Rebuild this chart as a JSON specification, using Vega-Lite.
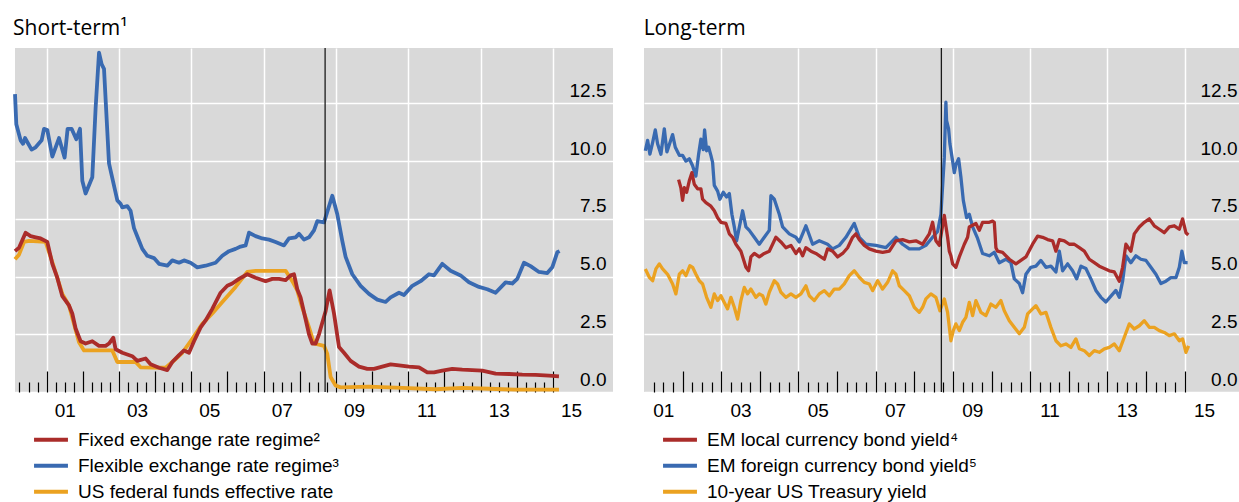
{
  "$schema": "https://vega.github.io/schema/vega-lite/v6.json",
  "background": "white",
  "padding": {"left": 13, "top": 18, "right": 0, "bottom": 0},
  "spacing": 30,
  "config": {
    "view": {"fill": "#d9d9d9", "stroke": null},
    "font": "Liberation Sans",
    "axis": {"labelFont": "Liberation Sans", "labelColor": "black", "labelFontSize": 19, "title": null},
    "legend": {"labelFont": "Liberation Sans", "labelColor": "black", "labelFontSize": 19, "labelLimit": 0}
  },
  "resolve": {"scale": {"color": "independent"}},
  "datasets": {
    "short": [
      {"s":"ffr","t":2000.126,"v":5.75},{"s":"ffr","t":2000.237,"v":5.95},{"s":"ffr","t":2000.375,"v":6.5},{"s":"ffr","t":2000.513,"v":6.55},{"s":"ffr","t":2000.972,"v":6.5},{"s":"ffr","t":2001.111,"v":5.85},{"s":"ffr","t":2001.295,"v":4.95},{"s":"ffr","t":2001.434,"v":4.25},{"s":"ffr","t":2001.619,"v":3.75},{"s":"ffr","t":2001.758,"v":2.95},{"s":"ffr","t":2001.896,"v":2.15},{"s":"ffr","t":2002.034,"v":1.8},{"s":"ffr","t":2002.816,"v":1.8},{"s":"ffr","t":2002.955,"v":1.3},{"s":"ffr","t":2003.461,"v":1.3},{"s":"ffr","t":2003.599,"v":1.07},{"s":"ffr","t":2004.29,"v":1.05},{"s":"ffr","t":2004.475,"v":1.3},{"s":"ffr","t":2004.752,"v":1.7},{"s":"ffr","t":2005.028,"v":2.3},{"s":"ffr","t":2005.305,"v":2.95},{"s":"ffr","t":2005.581,"v":3.4},{"s":"ffr","t":2005.858,"v":3.9},{"s":"ffr","t":2006.225,"v":4.55},{"s":"ffr","t":2006.549,"v":5.2},{"s":"ffr","t":2006.778,"v":5.25},{"s":"ffr","t":2007.608,"v":5.25},{"s":"ffr","t":2007.793,"v":4.8},{"s":"ffr","t":2007.931,"v":4.4},{"s":"ffr","t":2008.069,"v":3.65},{"s":"ffr","t":2008.255,"v":2.8},{"s":"ffr","t":2008.393,"v":2.1},{"s":"ffr","t":2008.669,"v":2.0},{"s":"ffr","t":2008.761,"v":1.65},{"s":"ffr","t":2008.852,"v":0.65},{"s":"ffr","t":2008.99,"v":0.28},{"s":"ffr","t":2009.128,"v":0.2},{"s":"ffr","t":2009.913,"v":0.23},{"s":"ffr","t":2010.834,"v":0.18},{"s":"ffr","t":2011.755,"v":0.12},{"s":"ffr","t":2012.493,"v":0.18},{"s":"ffr","t":2013.231,"v":0.14},{"s":"ffr","t":2013.967,"v":0.1},{"s":"ffr","t":2015.166,"v":0.1},
      {"s":"flex","t":2000.126,"v":12.9},{"s":"flex","t":2000.162,"v":11.6},{"s":"flex","t":2000.281,"v":10.9},{"s":"flex","t":2000.348,"v":10.75},{"s":"flex","t":2000.403,"v":11.0},{"s":"flex","t":2000.585,"v":10.5},{"s":"flex","t":2000.696,"v":10.6},{"s":"flex","t":2000.862,"v":10.9},{"s":"flex","t":2000.928,"v":11.4},{"s":"flex","t":2001.019,"v":11.35},{"s":"flex","t":2001.158,"v":10.2},{"s":"flex","t":2001.343,"v":11.0},{"s":"flex","t":2001.498,"v":10.15},{"s":"flex","t":2001.581,"v":11.4},{"s":"flex","t":2001.691,"v":11.4},{"s":"flex","t":2001.821,"v":10.95},{"s":"flex","t":2001.923,"v":11.4},{"s":"flex","t":2001.987,"v":9.15},{"s":"flex","t":2002.078,"v":8.6},{"s":"flex","t":2002.263,"v":9.3},{"s":"flex","t":2002.355,"v":12.3},{"s":"flex","t":2002.449,"v":14.7},{"s":"flex","t":2002.521,"v":14.2},{"s":"flex","t":2002.587,"v":14.0},{"s":"flex","t":2002.725,"v":9.9},{"s":"flex","t":2002.955,"v":8.3},{"s":"flex","t":2003.046,"v":8.15},{"s":"flex","t":2003.093,"v":8.0},{"s":"flex","t":2003.231,"v":8.05},{"s":"flex","t":2003.322,"v":7.85},{"s":"flex","t":2003.416,"v":7.1},{"s":"flex","t":2003.555,"v":6.55},{"s":"flex","t":2003.646,"v":6.2},{"s":"flex","t":2003.784,"v":5.9},{"s":"flex","t":2003.969,"v":5.8},{"s":"flex","t":2004.108,"v":5.55},{"s":"flex","t":2004.337,"v":5.47},{"s":"flex","t":2004.475,"v":5.7},{"s":"flex","t":2004.661,"v":5.6},{"s":"flex","t":2004.799,"v":5.7},{"s":"flex","t":2004.981,"v":5.6},{"s":"flex","t":2005.166,"v":5.4},{"s":"flex","t":2005.396,"v":5.47},{"s":"flex","t":2005.672,"v":5.6},{"s":"flex","t":2005.858,"v":5.9},{"s":"flex","t":2006.043,"v":6.1},{"s":"flex","t":2006.225,"v":6.2},{"s":"flex","t":2006.364,"v":6.3},{"s":"flex","t":2006.502,"v":6.35},{"s":"flex","t":2006.596,"v":6.9},{"s":"flex","t":2006.778,"v":6.75},{"s":"flex","t":2006.964,"v":6.65},{"s":"flex","t":2007.149,"v":6.6},{"s":"flex","t":2007.331,"v":6.5},{"s":"flex","t":2007.563,"v":6.35},{"s":"flex","t":2007.702,"v":6.65},{"s":"flex","t":2007.884,"v":6.7},{"s":"flex","t":2007.978,"v":6.85},{"s":"flex","t":2008.116,"v":6.6},{"s":"flex","t":2008.255,"v":6.7},{"s":"flex","t":2008.393,"v":7.0},{"s":"flex","t":2008.484,"v":7.4},{"s":"flex","t":2008.669,"v":7.35},{"s":"flex","t":2008.899,"v":8.5},{"s":"flex","t":2009.037,"v":7.7},{"s":"flex","t":2009.175,"v":6.55},{"s":"flex","t":2009.267,"v":5.85},{"s":"flex","t":2009.452,"v":5.1},{"s":"flex","t":2009.681,"v":4.6},{"s":"flex","t":2009.913,"v":4.25},{"s":"flex","t":2010.143,"v":4.0},{"s":"flex","t":2010.373,"v":3.9},{"s":"flex","t":2010.511,"v":4.1},{"s":"flex","t":2010.743,"v":4.3},{"s":"flex","t":2010.881,"v":4.2},{"s":"flex","t":2011.111,"v":4.6},{"s":"flex","t":2011.34,"v":4.8},{"s":"flex","t":2011.572,"v":5.1},{"s":"flex","t":2011.711,"v":5.05},{"s":"flex","t":2011.94,"v":5.55},{"s":"flex","t":2012.169,"v":5.25},{"s":"flex","t":2012.446,"v":5.05},{"s":"flex","t":2012.678,"v":4.75},{"s":"flex","t":2012.955,"v":4.55},{"s":"flex","t":2013.184,"v":4.45},{"s":"flex","t":2013.414,"v":4.3},{"s":"flex","t":2013.69,"v":4.75},{"s":"flex","t":2013.875,"v":4.7},{"s":"flex","t":2014.013,"v":4.9},{"s":"flex","t":2014.199,"v":5.6},{"s":"flex","t":2014.381,"v":5.45},{"s":"flex","t":2014.613,"v":5.2},{"s":"flex","t":2014.843,"v":5.15},{"s":"flex","t":2014.981,"v":5.4},{"s":"flex","t":2015.119,"v":6.05},{"s":"flex","t":2015.183,"v":6.1},
      {"s":"fixed","t":2000.126,"v":6.1},{"s":"fixed","t":2000.237,"v":6.25},{"s":"fixed","t":2000.419,"v":6.9},{"s":"fixed","t":2000.558,"v":6.75},{"s":"fixed","t":2000.696,"v":6.7},{"s":"fixed","t":2000.834,"v":6.65},{"s":"fixed","t":2001.019,"v":6.5},{"s":"fixed","t":2001.158,"v":5.55},{"s":"fixed","t":2001.295,"v":4.95},{"s":"fixed","t":2001.434,"v":4.15},{"s":"fixed","t":2001.619,"v":3.75},{"s":"fixed","t":2001.71,"v":3.4},{"s":"fixed","t":2001.802,"v":2.75},{"s":"fixed","t":2001.94,"v":2.2},{"s":"fixed","t":2002.078,"v":2.1},{"s":"fixed","t":2002.263,"v":2.2},{"s":"fixed","t":2002.449,"v":2.0},{"s":"fixed","t":2002.631,"v":2.0},{"s":"fixed","t":2002.725,"v":2.1},{"s":"fixed","t":2002.844,"v":2.35},{"s":"fixed","t":2002.908,"v":1.85},{"s":"fixed","t":2003.093,"v":1.7},{"s":"fixed","t":2003.369,"v":1.55},{"s":"fixed","t":2003.508,"v":1.35},{"s":"fixed","t":2003.737,"v":1.45},{"s":"fixed","t":2003.875,"v":1.2},{"s":"fixed","t":2004.108,"v":1.05},{"s":"fixed","t":2004.337,"v":0.95},{"s":"fixed","t":2004.475,"v":1.3},{"s":"fixed","t":2004.661,"v":1.6},{"s":"fixed","t":2004.799,"v":1.8},{"s":"fixed","t":2004.937,"v":1.7},{"s":"fixed","t":2005.075,"v":2.2},{"s":"fixed","t":2005.258,"v":2.8},{"s":"fixed","t":2005.396,"v":3.1},{"s":"fixed","t":2005.581,"v":3.6},{"s":"fixed","t":2005.811,"v":4.3},{"s":"fixed","t":2005.996,"v":4.6},{"s":"fixed","t":2006.134,"v":4.7},{"s":"fixed","t":2006.319,"v":4.9},{"s":"fixed","t":2006.549,"v":5.1},{"s":"fixed","t":2006.778,"v":4.95},{"s":"fixed","t":2007.055,"v":4.8},{"s":"fixed","t":2007.24,"v":4.9},{"s":"fixed","t":2007.425,"v":4.9},{"s":"fixed","t":2007.608,"v":4.85},{"s":"fixed","t":2007.746,"v":5.05},{"s":"fixed","t":2007.84,"v":5.1},{"s":"fixed","t":2007.931,"v":4.45},{"s":"fixed","t":2008.022,"v":4.1},{"s":"fixed","t":2008.161,"v":3.15},{"s":"fixed","t":2008.255,"v":2.5},{"s":"fixed","t":2008.346,"v":2.1},{"s":"fixed","t":2008.437,"v":2.1},{"s":"fixed","t":2008.531,"v":2.5},{"s":"fixed","t":2008.622,"v":3.0},{"s":"fixed","t":2008.714,"v":3.5},{"s":"fixed","t":2008.824,"v":4.4},{"s":"fixed","t":2008.946,"v":3.4},{"s":"fixed","t":2009.084,"v":1.95},{"s":"fixed","t":2009.222,"v":1.7},{"s":"fixed","t":2009.405,"v":1.35},{"s":"fixed","t":2009.637,"v":1.1},{"s":"fixed","t":2009.867,"v":1.0},{"s":"fixed","t":2010.052,"v":1.0},{"s":"fixed","t":2010.281,"v":1.1},{"s":"fixed","t":2010.511,"v":1.2},{"s":"fixed","t":2010.743,"v":1.15},{"s":"fixed","t":2011.019,"v":1.1},{"s":"fixed","t":2011.296,"v":1.07},{"s":"fixed","t":2011.525,"v":0.85},{"s":"fixed","t":2011.711,"v":0.85},{"s":"fixed","t":2011.94,"v":0.93},{"s":"fixed","t":2012.216,"v":1.0},{"s":"fixed","t":2012.493,"v":0.97},{"s":"fixed","t":2012.769,"v":0.95},{"s":"fixed","t":2013.045,"v":0.93},{"s":"fixed","t":2013.414,"v":0.8},{"s":"fixed","t":2013.784,"v":0.78},{"s":"fixed","t":2014.152,"v":0.75},{"s":"fixed","t":2014.52,"v":0.74},{"s":"fixed","t":2014.89,"v":0.71},{"s":"fixed","t":2015.166,"v":0.68}
    ],
    "long": [
      {"s":"ust","t":2001.034,"v":5.33},{"s":"ust","t":2001.137,"v":4.97},{"s":"ust","t":2001.223,"v":4.82},{"s":"ust","t":2001.308,"v":5.33},{"s":"ust","t":2001.396,"v":5.55},{"s":"ust","t":2001.482,"v":5.33},{"s":"ust","t":2001.611,"v":5.1},{"s":"ust","t":2001.741,"v":4.68},{"s":"ust","t":2001.826,"v":4.25},{"s":"ust","t":2001.914,"v":5.1},{"s":"ust","t":2001.999,"v":5.25},{"s":"ust","t":2002.085,"v":5.04},{"s":"ust","t":2002.189,"v":5.47},{"s":"ust","t":2002.258,"v":5.4},{"s":"ust","t":2002.344,"v":5.1},{"s":"ust","t":2002.432,"v":4.82},{"s":"ust","t":2002.517,"v":4.68},{"s":"ust","t":2002.621,"v":4.1},{"s":"ust","t":2002.732,"v":3.67},{"s":"ust","t":2002.82,"v":4.25},{"s":"ust","t":2002.906,"v":3.96},{"s":"ust","t":2002.991,"v":4.17},{"s":"ust","t":2003.079,"v":3.88},{"s":"ust","t":2003.165,"v":3.6},{"s":"ust","t":2003.25,"v":4.1},{"s":"ust","t":2003.338,"v":3.67},{"s":"ust","t":2003.424,"v":3.16},{"s":"ust","t":2003.509,"v":3.96},{"s":"ust","t":2003.597,"v":4.53},{"s":"ust","t":2003.683,"v":4.25},{"s":"ust","t":2003.768,"v":4.46},{"s":"ust","t":2003.897,"v":4.1},{"s":"ust","t":2003.985,"v":4.25},{"s":"ust","t":2004.071,"v":4.17},{"s":"ust","t":2004.156,"v":3.81},{"s":"ust","t":2004.244,"v":4.32},{"s":"ust","t":2004.374,"v":4.82},{"s":"ust","t":2004.459,"v":4.68},{"s":"ust","t":2004.545,"v":4.32},{"s":"ust","t":2004.674,"v":4.1},{"s":"ust","t":2004.804,"v":4.25},{"s":"ust","t":2004.933,"v":4.1},{"s":"ust","t":2005.063,"v":4.25},{"s":"ust","t":2005.192,"v":4.6},{"s":"ust","t":2005.28,"v":4.17},{"s":"ust","t":2005.41,"v":3.96},{"s":"ust","t":2005.539,"v":4.25},{"s":"ust","t":2005.669,"v":4.39},{"s":"ust","t":2005.798,"v":4.17},{"s":"ust","t":2005.927,"v":4.46},{"s":"ust","t":2006.057,"v":4.46},{"s":"ust","t":2006.186,"v":4.68},{"s":"ust","t":2006.316,"v":5.04},{"s":"ust","t":2006.445,"v":5.25},{"s":"ust","t":2006.575,"v":4.97},{"s":"ust","t":2006.704,"v":4.75},{"s":"ust","t":2006.834,"v":4.68},{"s":"ust","t":2006.919,"v":4.39},{"s":"ust","t":2007.049,"v":4.82},{"s":"ust","t":2007.178,"v":4.46},{"s":"ust","t":2007.308,"v":4.75},{"s":"ust","t":2007.437,"v":5.25},{"s":"ust","t":2007.523,"v":5.1},{"s":"ust","t":2007.611,"v":4.6},{"s":"ust","t":2007.74,"v":4.39},{"s":"ust","t":2007.87,"v":4.17},{"s":"ust","t":2007.999,"v":3.67},{"s":"ust","t":2008.128,"v":3.45},{"s":"ust","t":2008.214,"v":3.67},{"s":"ust","t":2008.299,"v":4.03},{"s":"ust","t":2008.429,"v":4.25},{"s":"ust","t":2008.558,"v":4.1},{"s":"ust","t":2008.662,"v":3.52},{"s":"ust","t":2008.776,"v":4.03},{"s":"ust","t":2008.861,"v":3.45},{"s":"ust","t":2008.947,"v":2.22},{"s":"ust","t":2009.009,"v":2.66},{"s":"ust","t":2009.076,"v":2.95},{"s":"ust","t":2009.164,"v":2.66},{"s":"ust","t":2009.25,"v":3.02},{"s":"ust","t":2009.335,"v":3.23},{"s":"ust","t":2009.423,"v":3.88},{"s":"ust","t":2009.509,"v":3.31},{"s":"ust","t":2009.594,"v":3.96},{"s":"ust","t":2009.724,"v":3.45},{"s":"ust","t":2009.853,"v":3.31},{"s":"ust","t":2009.982,"v":3.81},{"s":"ust","t":2010.112,"v":3.67},{"s":"ust","t":2010.241,"v":3.96},{"s":"ust","t":2010.329,"v":3.52},{"s":"ust","t":2010.459,"v":3.09},{"s":"ust","t":2010.588,"v":2.8},{"s":"ust","t":2010.718,"v":2.52},{"s":"ust","t":2010.847,"v":2.8},{"s":"ust","t":2010.933,"v":3.38},{"s":"ust","t":2011.062,"v":3.6},{"s":"ust","t":2011.148,"v":3.74},{"s":"ust","t":2011.277,"v":3.38},{"s":"ust","t":2011.407,"v":3.45},{"s":"ust","t":2011.536,"v":2.8},{"s":"ust","t":2011.666,"v":2.22},{"s":"ust","t":2011.795,"v":2.0},{"s":"ust","t":2011.924,"v":2.08},{"s":"ust","t":2012.054,"v":1.93},{"s":"ust","t":2012.183,"v":2.3},{"s":"ust","t":2012.272,"v":1.87},{"s":"ust","t":2012.401,"v":1.79},{"s":"ust","t":2012.53,"v":1.58},{"s":"ust","t":2012.66,"v":1.79},{"s":"ust","t":2012.789,"v":1.72},{"s":"ust","t":2012.919,"v":1.87},{"s":"ust","t":2013.048,"v":1.93},{"s":"ust","t":2013.178,"v":2.08},{"s":"ust","t":2013.307,"v":1.79},{"s":"ust","t":2013.436,"v":2.37},{"s":"ust","t":2013.566,"v":2.95},{"s":"ust","t":2013.695,"v":2.73},{"s":"ust","t":2013.825,"v":2.87},{"s":"ust","t":2013.954,"v":3.09},{"s":"ust","t":2014.084,"v":2.8},{"s":"ust","t":2014.213,"v":2.8},{"s":"ust","t":2014.343,"v":2.66},{"s":"ust","t":2014.472,"v":2.58},{"s":"ust","t":2014.602,"v":2.44},{"s":"ust","t":2014.731,"v":2.52},{"s":"ust","t":2014.861,"v":2.22},{"s":"ust","t":2014.946,"v":2.3},{"s":"ust","t":2015.032,"v":1.72},{"s":"ust","t":2015.101,"v":2.0},
      {"s":"efc","t":2001.034,"v":10.45},{"s":"efc","t":2001.093,"v":10.9},{"s":"efc","t":2001.153,"v":10.3},{"s":"efc","t":2001.223,"v":10.8},{"s":"efc","t":2001.293,"v":11.35},{"s":"efc","t":2001.352,"v":10.75},{"s":"efc","t":2001.438,"v":10.3},{"s":"efc","t":2001.526,"v":11.4},{"s":"efc","t":2001.593,"v":10.4},{"s":"efc","t":2001.671,"v":10.8},{"s":"efc","t":2001.741,"v":11.15},{"s":"efc","t":2001.81,"v":10.6},{"s":"efc","t":2001.914,"v":10.25},{"s":"efc","t":2001.999,"v":10.25},{"s":"efc","t":2002.085,"v":10.0},{"s":"efc","t":2002.173,"v":10.1},{"s":"efc","t":2002.258,"v":9.8},{"s":"efc","t":2002.344,"v":9.35},{"s":"efc","t":2002.414,"v":10.3},{"s":"efc","t":2002.473,"v":10.95},{"s":"efc","t":2002.535,"v":10.5},{"s":"efc","t":2002.569,"v":11.35},{"s":"efc","t":2002.621,"v":10.45},{"s":"efc","t":2002.673,"v":10.6},{"s":"efc","t":2002.732,"v":10.25},{"s":"efc","t":2002.776,"v":9.95},{"s":"efc","t":2002.82,"v":8.95},{"s":"efc","t":2002.906,"v":8.7},{"s":"efc","t":2002.965,"v":8.35},{"s":"efc","t":2003.053,"v":8.65},{"s":"efc","t":2003.139,"v":8.45},{"s":"efc","t":2003.209,"v":8.6},{"s":"efc","t":2003.276,"v":7.7},{"s":"efc","t":2003.338,"v":7.15},{"s":"efc","t":2003.398,"v":6.55},{"s":"efc","t":2003.553,"v":7.85},{"s":"efc","t":2003.639,"v":7.15},{"s":"efc","t":2003.727,"v":7.0},{"s":"efc","t":2003.856,"v":6.7},{"s":"efc","t":2003.985,"v":6.4},{"s":"efc","t":2004.115,"v":6.7},{"s":"efc","t":2004.244,"v":7.0},{"s":"efc","t":2004.286,"v":8.5},{"s":"efc","t":2004.374,"v":8.35},{"s":"efc","t":2004.503,"v":7.7},{"s":"efc","t":2004.589,"v":7.15},{"s":"efc","t":2004.762,"v":6.85},{"s":"efc","t":2004.933,"v":6.7},{"s":"efc","t":2005.021,"v":6.5},{"s":"efc","t":2005.192,"v":7.2},{"s":"efc","t":2005.366,"v":6.4},{"s":"efc","t":2005.539,"v":6.55},{"s":"efc","t":2005.754,"v":6.4},{"s":"efc","t":2005.884,"v":6.2},{"s":"efc","t":2006.057,"v":6.35},{"s":"efc","t":2006.228,"v":6.7},{"s":"efc","t":2006.445,"v":7.3},{"s":"efc","t":2006.575,"v":6.7},{"s":"efc","t":2006.746,"v":6.4},{"s":"efc","t":2007.005,"v":6.35},{"s":"efc","t":2007.264,"v":6.25},{"s":"efc","t":2007.523,"v":6.7},{"s":"efc","t":2007.696,"v":6.4},{"s":"efc","t":2007.87,"v":6.2},{"s":"efc","t":2008.128,"v":6.2},{"s":"efc","t":2008.299,"v":6.35},{"s":"efc","t":2008.473,"v":6.7},{"s":"efc","t":2008.602,"v":6.95},{"s":"efc","t":2008.688,"v":7.7},{"s":"efc","t":2008.776,"v":10.15},{"s":"efc","t":2008.817,"v":12.55},{"s":"efc","t":2008.835,"v":11.75},{"s":"efc","t":2008.887,"v":11.4},{"s":"efc","t":2008.921,"v":10.75},{"s":"efc","t":2008.991,"v":10.0},{"s":"efc","t":2009.035,"v":9.5},{"s":"efc","t":2009.076,"v":9.85},{"s":"efc","t":2009.146,"v":10.1},{"s":"efc","t":2009.206,"v":9.3},{"s":"efc","t":2009.268,"v":8.3},{"s":"efc","t":2009.353,"v":7.55},{"s":"efc","t":2009.423,"v":7.7},{"s":"efc","t":2009.509,"v":7.15},{"s":"efc","t":2009.638,"v":6.65},{"s":"efc","t":2009.767,"v":6.0},{"s":"efc","t":2009.941,"v":5.9},{"s":"efc","t":2010.07,"v":6.05},{"s":"efc","t":2010.2,"v":5.6},{"s":"efc","t":2010.371,"v":5.75},{"s":"efc","t":2010.5,"v":5.6},{"s":"efc","t":2010.588,"v":4.9},{"s":"efc","t":2010.718,"v":4.7},{"s":"efc","t":2010.803,"v":4.3},{"s":"efc","t":2010.889,"v":5.1},{"s":"efc","t":2011.018,"v":5.4},{"s":"efc","t":2011.148,"v":5.45},{"s":"efc","t":2011.277,"v":5.7},{"s":"efc","t":2011.407,"v":5.4},{"s":"efc","t":2011.536,"v":5.45},{"s":"efc","t":2011.666,"v":5.2},{"s":"efc","t":2011.754,"v":6.1},{"s":"efc","t":2011.839,"v":5.25},{"s":"efc","t":2011.969,"v":5.55},{"s":"efc","t":2012.098,"v":5.25},{"s":"efc","t":2012.202,"v":4.9},{"s":"efc","t":2012.313,"v":5.45},{"s":"efc","t":2012.442,"v":5.35},{"s":"efc","t":2012.572,"v":4.9},{"s":"efc","t":2012.701,"v":4.4},{"s":"efc","t":2012.831,"v":4.1},{"s":"efc","t":2012.96,"v":3.9},{"s":"efc","t":2013.09,"v":4.15},{"s":"efc","t":2013.219,"v":4.4},{"s":"efc","t":2013.307,"v":4.1},{"s":"efc","t":2013.393,"v":4.8},{"s":"efc","t":2013.478,"v":5.9},{"s":"efc","t":2013.607,"v":5.6},{"s":"efc","t":2013.737,"v":5.9},{"s":"efc","t":2013.866,"v":5.75},{"s":"efc","t":2013.996,"v":5.7},{"s":"efc","t":2014.125,"v":5.4},{"s":"efc","t":2014.255,"v":5.1},{"s":"efc","t":2014.384,"v":4.7},{"s":"efc","t":2014.514,"v":4.8},{"s":"efc","t":2014.643,"v":4.95},{"s":"efc","t":2014.773,"v":4.95},{"s":"efc","t":2014.861,"v":5.4},{"s":"efc","t":2014.928,"v":6.1},{"s":"efc","t":2014.99,"v":5.6},{"s":"efc","t":2015.076,"v":5.6},
      {"s":"elc","t":2001.896,"v":9.2},{"s":"elc","t":2001.955,"v":8.85},{"s":"elc","t":2001.999,"v":8.3},{"s":"elc","t":2002.044,"v":8.85},{"s":"elc","t":2002.103,"v":8.65},{"s":"elc","t":2002.173,"v":9.15},{"s":"elc","t":2002.24,"v":9.5},{"s":"elc","t":2002.302,"v":9.0},{"s":"elc","t":2002.388,"v":8.8},{"s":"elc","t":2002.473,"v":8.8},{"s":"elc","t":2002.517,"v":8.35},{"s":"elc","t":2002.603,"v":8.2},{"s":"elc","t":2002.732,"v":8.05},{"s":"elc","t":2002.82,"v":7.85},{"s":"elc","t":2002.906,"v":7.55},{"s":"elc","t":2002.991,"v":7.35},{"s":"elc","t":2003.121,"v":7.3},{"s":"elc","t":2003.209,"v":6.85},{"s":"elc","t":2003.294,"v":6.7},{"s":"elc","t":2003.38,"v":6.4},{"s":"elc","t":2003.509,"v":6.1},{"s":"elc","t":2003.639,"v":5.4},{"s":"elc","t":2003.708,"v":5.25},{"s":"elc","t":2003.768,"v":5.85},{"s":"elc","t":2003.856,"v":6.0},{"s":"elc","t":2003.985,"v":5.85},{"s":"elc","t":2004.115,"v":6.0},{"s":"elc","t":2004.244,"v":6.1},{"s":"elc","t":2004.33,"v":6.4},{"s":"elc","t":2004.415,"v":6.7},{"s":"elc","t":2004.545,"v":6.5},{"s":"elc","t":2004.674,"v":6.25},{"s":"elc","t":2004.804,"v":6.35},{"s":"elc","t":2004.933,"v":6.0},{"s":"elc","t":2005.021,"v":6.2},{"s":"elc","t":2005.107,"v":5.9},{"s":"elc","t":2005.192,"v":6.25},{"s":"elc","t":2005.322,"v":6.1},{"s":"elc","t":2005.451,"v":6.0},{"s":"elc","t":2005.581,"v":5.85},{"s":"elc","t":2005.669,"v":5.75},{"s":"elc","t":2005.754,"v":6.2},{"s":"elc","t":2005.884,"v":6.1},{"s":"elc","t":2006.013,"v":5.85},{"s":"elc","t":2006.143,"v":6.0},{"s":"elc","t":2006.272,"v":6.25},{"s":"elc","t":2006.401,"v":6.7},{"s":"elc","t":2006.487,"v":6.85},{"s":"elc","t":2006.575,"v":6.6},{"s":"elc","t":2006.704,"v":6.35},{"s":"elc","t":2006.834,"v":6.2},{"s":"elc","t":2007.005,"v":6.1},{"s":"elc","t":2007.178,"v":6.05},{"s":"elc","t":2007.352,"v":6.1},{"s":"elc","t":2007.523,"v":6.55},{"s":"elc","t":2007.696,"v":6.6},{"s":"elc","t":2007.87,"v":6.5},{"s":"elc","t":2008.04,"v":6.55},{"s":"elc","t":2008.214,"v":6.4},{"s":"elc","t":2008.387,"v":6.85},{"s":"elc","t":2008.473,"v":7.35},{"s":"elc","t":2008.558,"v":6.55},{"s":"elc","t":2008.646,"v":6.35},{"s":"elc","t":2008.776,"v":7.65},{"s":"elc","t":2008.861,"v":6.7},{"s":"elc","t":2008.905,"v":6.1},{"s":"elc","t":2008.947,"v":5.9},{"s":"elc","t":2008.991,"v":5.55},{"s":"elc","t":2009.076,"v":5.4},{"s":"elc","t":2009.164,"v":5.85},{"s":"elc","t":2009.294,"v":6.4},{"s":"elc","t":2009.379,"v":6.7},{"s":"elc","t":2009.423,"v":7.15},{"s":"elc","t":2009.594,"v":7.3},{"s":"elc","t":2009.682,"v":7.0},{"s":"elc","t":2009.767,"v":7.35},{"s":"elc","t":2009.941,"v":7.35},{"s":"elc","t":2010.026,"v":7.4},{"s":"elc","t":2010.07,"v":7.35},{"s":"elc","t":2010.112,"v":6.25},{"s":"elc","t":2010.156,"v":6.1},{"s":"elc","t":2010.285,"v":6.05},{"s":"elc","t":2010.459,"v":5.75},{"s":"elc","t":2010.63,"v":5.55},{"s":"elc","t":2010.759,"v":5.7},{"s":"elc","t":2010.889,"v":5.85},{"s":"elc","t":2011.062,"v":6.4},{"s":"elc","t":2011.192,"v":6.75},{"s":"elc","t":2011.321,"v":6.7},{"s":"elc","t":2011.451,"v":6.6},{"s":"elc","t":2011.58,"v":6.55},{"s":"elc","t":2011.666,"v":6.1},{"s":"elc","t":2011.754,"v":6.6},{"s":"elc","t":2011.883,"v":6.55},{"s":"elc","t":2012.013,"v":6.4},{"s":"elc","t":2012.142,"v":6.4},{"s":"elc","t":2012.272,"v":6.25},{"s":"elc","t":2012.401,"v":6.1},{"s":"elc","t":2012.53,"v":5.75},{"s":"elc","t":2012.66,"v":5.6},{"s":"elc","t":2012.789,"v":5.45},{"s":"elc","t":2012.919,"v":5.35},{"s":"elc","t":2013.048,"v":5.25},{"s":"elc","t":2013.178,"v":5.2},{"s":"elc","t":2013.307,"v":4.8},{"s":"elc","t":2013.393,"v":5.4},{"s":"elc","t":2013.478,"v":6.4},{"s":"elc","t":2013.607,"v":6.1},{"s":"elc","t":2013.695,"v":6.85},{"s":"elc","t":2013.825,"v":7.15},{"s":"elc","t":2013.954,"v":7.35},{"s":"elc","t":2014.084,"v":7.5},{"s":"elc","t":2014.213,"v":7.2},{"s":"elc","t":2014.343,"v":7.05},{"s":"elc","t":2014.472,"v":6.9},{"s":"elc","t":2014.602,"v":7.15},{"s":"elc","t":2014.731,"v":7.2},{"s":"elc","t":2014.861,"v":7.05},{"s":"elc","t":2014.946,"v":7.5},{"s":"elc","t":2015.032,"v":6.9},{"s":"elc","t":2015.094,"v":6.8}
    ]
  },
  "hconcat": [
    {
      "width": 598,
      "height": 344,
      "title": {"text": "Short-term¹", "anchor": "start", "font": "Open Sans", "fontSize": 21, "fontWeight": "normal", "color": "black", "baseline": "bottom", "offset": -13},
      "resolve": {"axis": {"x": "independent"}},
      "layer": [
        {
          "data": {"name": "short"},
          "mark": {"type": "line", "strokeWidth": 3.8, "strokeJoin": "round"},
          "encoding": {
            "x": {"field": "t", "type": "quantitative", "scale": {"domain": [2000.126, 2016.66], "nice": false, "zero": false},
              "axis": {"orient": "bottom", "values": [2001.5, 2003.5, 2005.5, 2007.5, 2009.5, 2011.5, 2013.5, 2015.5], "labelExpr": "slice(format(floor(datum.value), 'd'), 2)", "ticks": false, "domain": false, "grid": false, "labelPadding": 9, "labelBaseline": "top", "labelFlush": false, "labelOverlap": false}},
            "y": {"field": "v", "type": "quantitative", "scale": {"domain": [0, 14.9], "nice": false},
              "axis": {"orient": "right", "values": [0, 2.5, 5, 7.5, 10, 12.5], "format": ".1f", "grid": true, "gridColor": "white", "gridWidth": 1.5, "ticks": false, "domain": false, "labelAlign": "right", "labelPadding": -7, "labelBaseline": "line-bottom", "labelLineHeight": 26}},
            "color": {"field": "s", "type": "nominal",
              "scale": {"domain": ["fixed", "flex", "ffr"], "range": ["#aa2c2a", "#396ab1", "#eba221"]},
              "legend": {"orient": "none", "legendX": 17, "legendY": 379, "title": null, "symbolType": "stroke", "symbolStrokeWidth": 4, "symbolSize": 1150, "labelOffset": 8, "rowPadding": 0, "clipHeight": 25.5, "padding": 0,
                "labelExpr": "{'fixed': 'Fixed exchange rate regime²', 'flex': 'Flexible exchange rate regime³', 'ffr': 'US federal funds effective rate'}[datum.label]"}}
          }
        },
        {
          "data": {"values": [{"t": 2008.7}]},
          "mark": {"type": "rule", "color": "#1a1a1a", "strokeWidth": 1.3},
          "encoding": {
            "x": {"field": "t", "type": "quantitative",
              "axis": {"orient": "bottom", "values": [2000.25,2000.5,2000.75,2001,2001.25,2001.5,2001.75,2002,2002.25,2002.5,2002.75,2003,2003.25,2003.5,2003.75,2004,2004.25,2004.5,2004.75,2005,2005.25,2005.5,2005.75,2006,2006.25,2006.5,2006.75,2007,2007.25,2007.5,2007.75,2008,2008.25,2008.5,2008.75,2009,2009.25,2009.5,2009.75,2010,2010.25,2010.5,2010.75,2011,2011.25,2011.5,2011.75,2012,2012.25,2012.5,2012.75,2013,2013.25,2013.5,2013.75,2014,2014.25,2014.5,2014.75,2015],
                "labels": false, "domain": false, "grid": true, "gridColor": "white", "gridWidth": 1.5,
                "gridOpacity": {"condition": {"test": "datum.value % 2 == 1", "value": 1}, "value": 0},
                "ticks": true, "tickColor": "black", "tickWidth": 1.2,
                "tickSize": {"condition": {"test": "datum.value % 1 == 0", "value": -21}, "value": -10}}}
          }
        }
      ]
    },
    {
      "width": 600,
      "height": 344,
      "title": {"text": "Long-term", "anchor": "start", "font": "Open Sans", "fontSize": 21, "fontWeight": "normal", "color": "black", "baseline": "bottom", "offset": -13},
      "resolve": {"axis": {"x": "independent"}},
      "layer": [
        {
          "data": {"name": "long"},
          "mark": {"type": "line", "strokeWidth": 3.3, "strokeJoin": "round"},
          "encoding": {
            "x": {"field": "t", "type": "quantitative", "scale": {"domain": [2001.0, 2016.536], "nice": false, "zero": false},
              "axis": {"orient": "bottom", "values": [2001.5, 2003.5, 2005.5, 2007.5, 2009.5, 2011.5, 2013.5, 2015.5], "labelExpr": "slice(format(floor(datum.value), 'd'), 2)", "ticks": false, "domain": false, "grid": false, "labelPadding": 9, "labelBaseline": "top", "labelFlush": false, "labelOverlap": false}},
            "y": {"field": "v", "type": "quantitative", "scale": {"domain": [0, 14.9], "nice": false},
              "axis": {"orient": "right", "values": [0, 2.5, 5, 7.5, 10, 12.5], "format": ".1f", "grid": true, "gridColor": "white", "gridWidth": 1.5, "ticks": false, "domain": false, "labelAlign": "right", "labelPadding": -7, "labelBaseline": "line-bottom", "labelLineHeight": 26}},
            "color": {"field": "s", "type": "nominal",
              "scale": {"domain": ["elc", "efc", "ust"], "range": ["#aa2c2a", "#396ab1", "#eba221"]},
              "legend": {"orient": "none", "legendX": 17, "legendY": 379, "title": null, "symbolType": "stroke", "symbolStrokeWidth": 4, "symbolSize": 1150, "labelOffset": 8, "rowPadding": 0, "clipHeight": 25.5, "padding": 0,
                "labelExpr": "{'elc': 'EM local currency bond yield⁴', 'efc': 'EM foreign currency bond yield⁵', 'ust': '10-year US Treasury yield'}[datum.label]"}}
          }
        },
        {
          "data": {"values": [{"t": 2008.7}]},
          "mark": {"type": "rule", "color": "#1a1a1a", "strokeWidth": 1.3},
          "encoding": {
            "x": {"field": "t", "type": "quantitative",
              "axis": {"orient": "bottom", "values": [2001.25,2001.5,2001.75,2002,2002.25,2002.5,2002.75,2003,2003.25,2003.5,2003.75,2004,2004.25,2004.5,2004.75,2005,2005.25,2005.5,2005.75,2006,2006.25,2006.5,2006.75,2007,2007.25,2007.5,2007.75,2008,2008.25,2008.5,2008.75,2009,2009.25,2009.5,2009.75,2010,2010.25,2010.5,2010.75,2011,2011.25,2011.5,2011.75,2012,2012.25,2012.5,2012.75,2013,2013.25,2013.5,2013.75,2014,2014.25,2014.5,2014.75,2015],
                "labels": false, "domain": false, "grid": true, "gridColor": "white", "gridWidth": 1.5,
                "gridOpacity": {"condition": {"test": "datum.value % 2 == 1", "value": 1}, "value": 0},
                "ticks": true, "tickColor": "black", "tickWidth": 1.2,
                "tickSize": {"condition": {"test": "datum.value % 1 == 0", "value": -21}, "value": -10}}}
          }
        }
      ]
    }
  ]
}
